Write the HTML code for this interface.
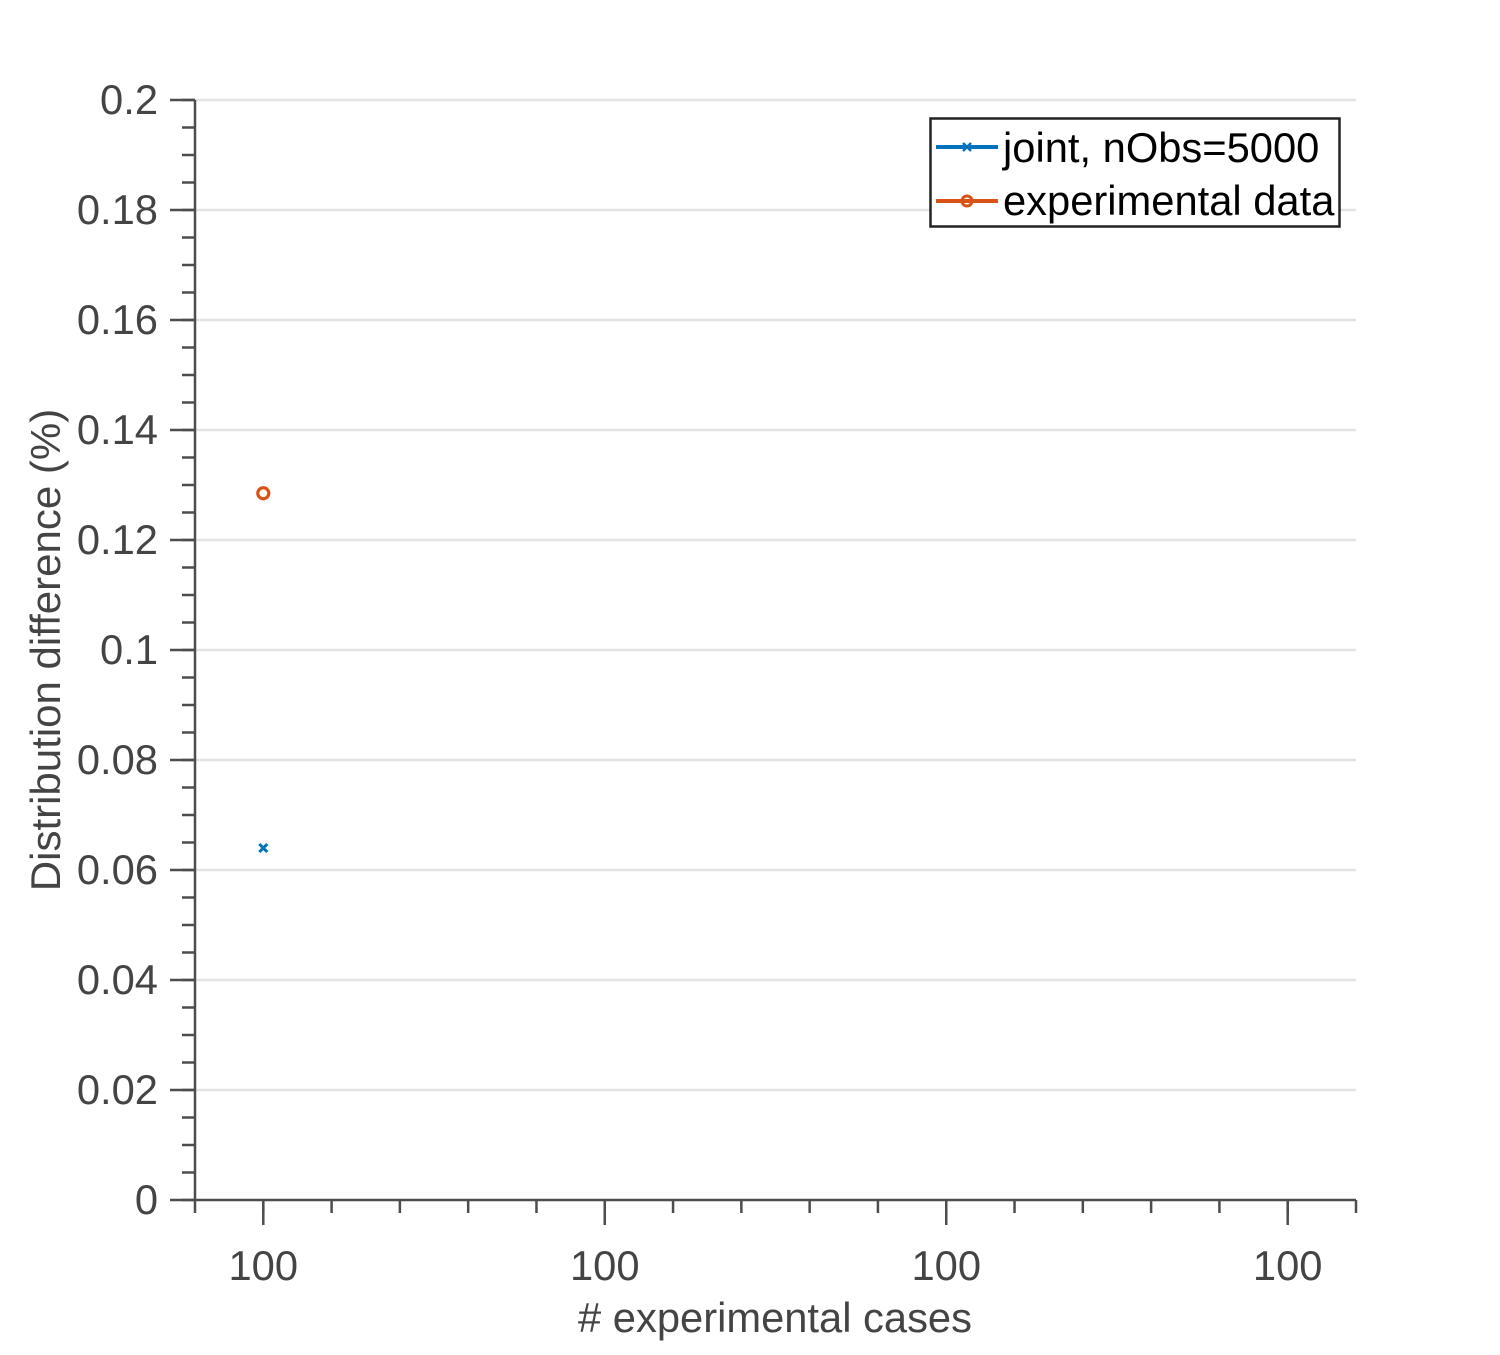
<!DOCTYPE html>
<html><head><meta charset="utf-8"><style>
html,body{margin:0;padding:0;background:#fff;}
svg text{font-family:"Liberation Sans",Arial,sans-serif;}
</style></head><body>
<svg id="chart" width="1500" height="1350" xmlns="http://www.w3.org/2000/svg">
<g id="grid"></g>
<g id="axes"></g>
<g id="marks"></g>
<text transform="translate(60,650) rotate(-90)" text-anchor="middle" font-size="42" fill="#444">Distribution difference (%)</text>
<text x="775" y="1332" text-anchor="middle" font-size="41.7" fill="#444">#  experimental cases</text>
<g>
<rect x="930.5" y="118.5" width="409" height="108" fill="#fff" stroke="#222" stroke-width="2.5"/>
<g>
<line x1="936" y1="147" x2="998" y2="147" stroke="#0072BD" stroke-width="4"/>
<path d="M963,143 l8,8 M971,143 l-8,8" stroke="#0072BD" stroke-width="2.5"/>
<text x="1003" y="162" font-size="41.7" fill="#000">joint, nObs=5000</text>
</g>
<g>
<line x1="936" y1="201" x2="998" y2="201" stroke="#D95319" stroke-width="4"/>
<circle cx="967" cy="201" r="5" fill="none" stroke="#D95319" stroke-width="3"/>
<text x="1003" y="215" font-size="41.7" fill="#000">experimental data</text>
</g>
</g>
</svg>
<script>
const xTickValues=[1,2,3,4];
const xTickLabels=["100","100","100","100"];
const yTickValues=[0,0.02,0.04,0.06,0.08,0.1,0.12,0.14,0.16,0.18,0.2];
const yTickLabels=["0","0.02","0.04","0.06","0.08","0.1","0.12","0.14","0.16","0.18","0.2"];
const jointX=[1];
const jointY=[0.064];
const expX=[1];
const expY=[0.1285];

const L=195,R=1356,T=100,B=1200,XMIN=0.8,XMAX=4.2,YMIN=0,YMAX=0.2;
const sx=v=>L+(v-XMIN)/(XMAX-XMIN)*(R-L);
const sy=v=>B-(v-YMIN)/(YMAX-YMIN)*(B-T);
const NS="http://www.w3.org/2000/svg";
function mk(tag,attrs,parent){const e=document.createElementNS(NS,tag);for(const k in attrs)e.setAttribute(k,attrs[k]);parent.appendChild(e);return e;}
const grid=document.getElementById('grid'),axes=document.getElementById('axes'),marks=document.getElementById('marks');
const ac="#4d4d4d";
yTickValues.forEach((v,i)=>{
  if(v>YMIN){const g=mk('line',{x1:L,x2:R,y1:sy(v),y2:sy(v),stroke:"#e3e3e3","stroke-width":2.5},grid);
  
  }
  const t=mk('line',{x1:L-25,x2:L,y1:sy(v),y2:sy(v),stroke:ac,"stroke-width":2.5},axes);
  
  
  const lb=mk('text',{x:158,y:sy(v)+14,"text-anchor":"end","font-size":41.7,fill:"#444"},axes);
  lb.textContent=yTickLabels[i];
  
  
});
for(let v=YMIN;v<=YMAX+1e-9;v+=0.005){
  const t=mk('line',{x1:L-13,x2:L,y1:sy(v),y2:sy(v),stroke:ac,"stroke-width":2.5},axes);
  
  
}
for(let v=XMIN;v<=XMAX+1e-9;v+=0.2){
  const t=mk('line',{x1:sx(v),x2:sx(v),y1:B,y2:B+13,stroke:ac,"stroke-width":2.5},axes);
  
  
}
xTickValues.forEach((v,i)=>{
  const t=mk('line',{x1:sx(v),x2:sx(v),y1:B,y2:B+25,stroke:ac,"stroke-width":2.5},axes);
  
  
  const lb=mk('text',{x:sx(v),y:1280,"text-anchor":"middle","font-size":41.7,fill:"#444"},axes);
  lb.textContent=xTickLabels[i];
  
  
});
const ya=mk('line',{x1:L,x2:L,y1:T,y2:B,stroke:ac,"stroke-width":2.5},axes);


const xa=mk('line',{x1:L,x2:R,y1:B,y2:B,stroke:ac,"stroke-width":2.5},axes);


jointX.forEach((v,i)=>{
  const x=sx(v),y=sy(jointY[i]);
  const p=mk('path',{d:`M${x-4},${y-4} L${x+4},${y+4} M${x+4},${y-4} L${x-4},${y+4}`,stroke:"#0072BD","stroke-width":3},marks);
  
  
});
expX.forEach((v,i)=>{
  const c=mk('circle',{cx:sx(v),cy:sy(expY[i]),r:5.5,fill:"none",stroke:"#D95319","stroke-width":3.2},marks);
  
  
});
</script>
</body></html>
